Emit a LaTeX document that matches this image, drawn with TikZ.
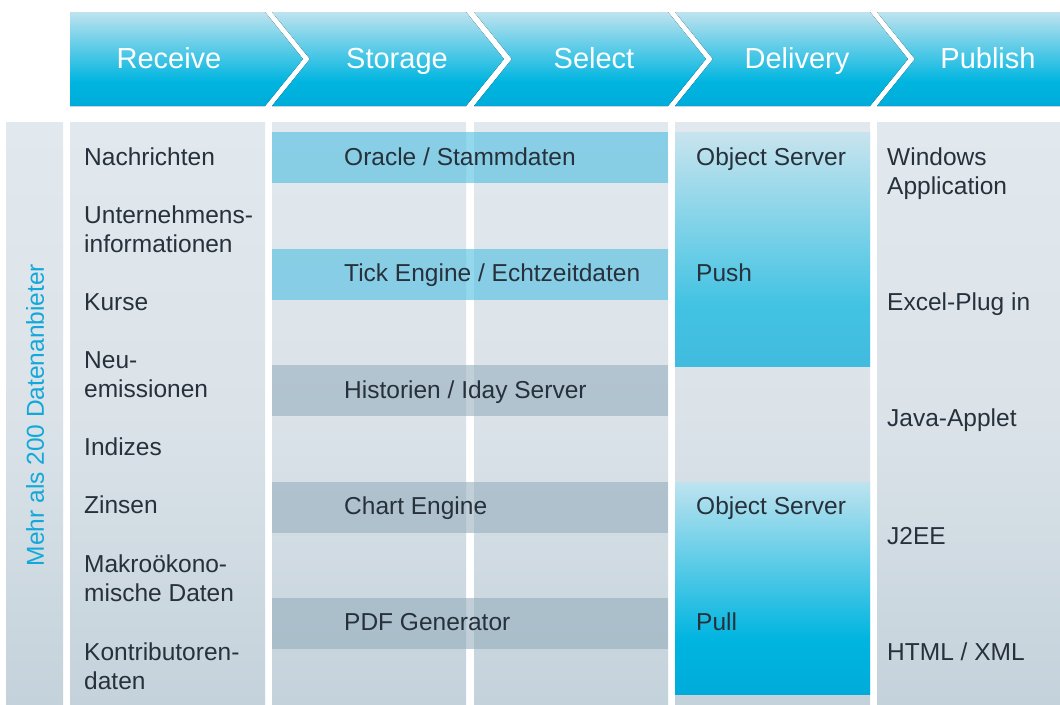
\documentclass[tikz,border=0pt]{standalone}
\usepackage{fontspec}
\setmainfont{Liberation Sans}
\definecolor{headlight}{RGB}{190,227,239}
\definecolor{headmid}{RGB}{0,181,224}
\definecolor{headdark}{RGB}{0,171,218}
\definecolor{pushlight}{RGB}{200,228,238}
\definecolor{pushmid}{RGB}{66,195,227}
\definecolor{pushdark}{RGB}{65,187,223}
\definecolor{coltop}{RGB}{225,232,238}
\definecolor{colmid}{RGB}{219,227,233}
\definecolor{colbot}{RGB}{196,210,219}
\definecolor{textdark}{RGB}{39,49,59}
\definecolor{labelcyan}{RGB}{18,168,218}
\definecolor{bandblue}{RGB}{77,190,225}
\definecolor{bandgray}{RGB}{150,175,190}
\usepackage{tikz}
\usetikzlibrary{positioning}
\pgfdeclareverticalshading{headshade}{100bp}{color(0bp)=(headdark); color(25bp)=(headdark); color(38bp)=(headmid); color(75bp)=(headlight); color(100bp)=(headlight)}
\pgfdeclareverticalshading{pushshade}{100bp}{color(0bp)=(pushdark); color(25bp)=(pushdark); color(38bp)=(pushmid); color(75bp)=(pushlight); color(100bp)=(pushlight)}
\pgfdeclareverticalshading{colshade}{100bp}{color(0bp)=(colbot); color(25bp)=(colbot); color(50bp)=(colmid); color(75bp)=(coltop); color(100bp)=(coltop)}
\tikzset{
item/.style={font=\fontsize{24.5}{29.2}\selectfont, text=textdark, anchor=base west, align=left, inner sep=0pt}, % entries in the columns
head/.style={font=\fontsize{29}{34}\selectfont, text=white, anchor=base, inner sep=0pt}, % titles in the arrows
column/.style={shading=colshade}, % grey columns
strip/.style={opacity=0.6}, % bands across storage and select
}

\begin{document}
\begin{tikzpicture}[x=1pt, y=-1pt]
\fill[white] (0,0) rectangle (1060,704);
\useasboundingbox (0,0) rectangle (1060,704);

% header arrows
\fill[shading=headshade] (70,12) -- (265,12) -- ++(38,47) -- (265,106) -- (70,106) -- cycle;
\foreach \xa/\xb in {272/466, 474/668, 675/870}
  \fill[shading=headshade] (\xa,12) -- (\xb,12) -- ++(38,47) -- (\xb,106) -- (\xa,106) -- ++(38,-47) -- cycle;
\fill[shading=headshade] (877,12) -- (1060,12) -- (1060,106) -- (877,106) -- ++(38,-47) -- cycle;
\node[head] (receive) at (169,68) {Receive};
\node[head] (storage) at (397,68) {Storage};
\node[head] (select) at (594,68) {Select};
\node[head] (delivery) at (797,68) {Delivery};
\node[head] (publish) at (988,68) {Publish};

% columns
\foreach \xa/\xb in {6/63, 70/265, 272/466, 474/668, 675/870, 877/1060}
  \fill[column] (\xa,122) rectangle (\xb,704);

% storage / select bands
\foreach \y/\c in {132/bandblue, 249/bandblue, 365/bandgray, 482/bandgray, 598/bandgray}
  \fill[strip, \c] (272,\y) rectangle (668,\y+51);

% delivery boxes
\fill[shading=pushshade] (675,132) rectangle (870,366);
\fill[shading=headshade] (675,482) rectangle (870,694);

\node[rotate=90, text=labelcyan, font=\fontsize{24.5}{29}\selectfont] (anbieter) at (35,415) {Mehr als 200 Datenanbieter};

% receive (two-line entries sit on their last line)
\node[item] (nachrichten) at (84,165.5) {Nachrichten};
\node[item] (unternehmen) at (84,252.7) {Unternehmens-\\informationen};
\node[item] (kurse) at (84,310.5) {Kurse};
\node[item] (neuemission) at (84,397.7) {Neu-\\emissionen};
\node[item] (indizes) at (84,455.5) {Indizes};
\node[item] (zinsen) at (84,513.5) {Zinsen};
\node[item] (makro) at (84,601.5) {Makroökono-\\mische Daten};
\node[item] (kontrib) at (84,689.5) {Kontributoren-\\daten};

% storage
\node[item] (oracle) at (344,165.5) {Oracle / Stammdaten};
\node[item] (tick) at (344,281.5) {Tick Engine / Echtzeitdaten};
\node[item] (historien) at (344,398.5) {Historien / Iday Server};
\node[item] (chart) at (344,514.5) {Chart Engine};
\node[item] (pdf) at (344,630.5) {PDF Generator};

% delivery
\node[item] (objpush) at (696,165.5) {Object Server};
\node[item] (push) at (696,281.5) {Push};
\node[item] (objpull) at (696,514.5) {Object Server};
\node[item] (pull) at (696,630.5) {Pull};

% publish
\node[item] (windows) at (887,194.7) {Windows\\Application};
\node[item] (excel) at (887,310.5) {Excel-Plug in};
\node[item] (java) at (887,426.5) {Java-Applet};
\node[item] (jee) at (887,544) {J2EE};
\node[item] (html) at (887,660.5) {HTML / XML};
\end{tikzpicture}
\end{document}
